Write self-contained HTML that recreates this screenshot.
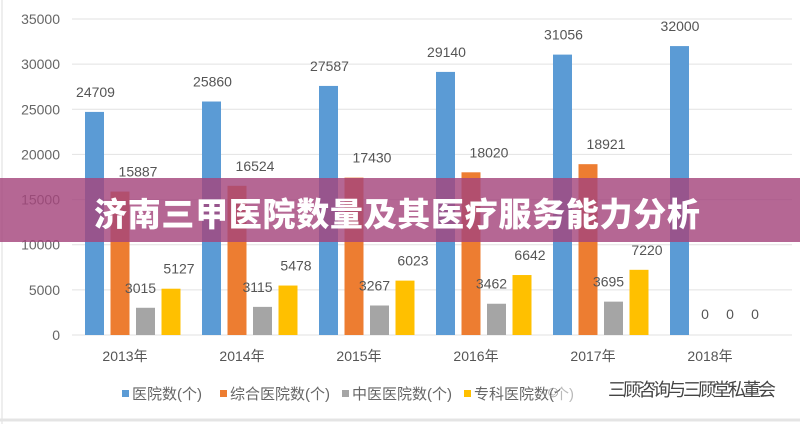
<!DOCTYPE html>
<html><head><meta charset="utf-8"><style>
html,body{margin:0;padding:0;background:#fff;}
#c{position:relative;width:800px;height:424px;overflow:hidden;font-family:"Liberation Sans","Noto Sans CJK SC",sans-serif;}
.banner{position:absolute;left:0;top:178px;width:800px;height:64px;background:rgba(165,70,125,0.82);}
.banner span{position:absolute;left:94px;top:10px;color:#fff;font-weight:900;font-size:33px;font-family:"Noto Sans CJK SC","WenQuanYi Zen Hei",sans-serif;letter-spacing:0.7px;}
</style></head><body><div id="c">
<svg id="s" width="800" height="424" xmlns="http://www.w3.org/2000/svg" font-family="Liberation Sans, Noto Sans CJK SC, sans-serif"></svg>
<div class="banner"><span>济南三甲医院数量及其医疗服务能力分析</span></div>
</div>
<script>
var s=document.getElementById('s'),h='';
h+='<rect x="0" y="0" width="800" height="424" fill="#fff"/><line x1="2" y1="0" x2="2" y2="424" stroke="#ddd"/><line x1="0" y1="420" x2="800" y2="420" stroke="#e4e4e4" stroke-width="3"/>';
function Y(v){return 335-v*316/35000;}
for(var i=0;i<=7;i++){var y=Y(i*5000);h+='<line x1="72" x2="792" y1="'+y+'" y2="'+y+'" stroke="#e2e2e2"/>';h+='<text x="60" y="'+(y+5)+'" text-anchor="end" font-size="14" fill="#666">'+(i*5000)+'</text>';}
var d=[[24709,15887,3015,5127],[25860,16524,3115,5478],[27587,17430,3267,6023],[29140,18020,3462,6642],[31056,18921,3695,7220],[32000,0,0,0]];
var col=['#5b9bd5','#ed7d31','#a5a5a5','#ffc000'];
var dx=[1,18,-5,8];
for(var g=0;g<6;g++){var x0=85+g*117;
for(var k=0;k<4;k++){var v=d[g][k],x=x0+k*25.5,y=Y(v);
if(v>0)h+='<rect x="'+x+'" y="'+y+'" width="19" height="'+(335-y)+'" fill="'+col[k]+'"/>';
var lx=x+9.5+dx[k],ly=y-15;if(g==5&&k>0){lx=x0+35+(k-1)*25;ly=319;}
if(g==5&&k==0){lx=x+10;}
h+='<text x="'+lx+'" y="'+ly+'" text-anchor="middle" font-size="14" fill="#555">'+v+'</text>';}
h+='<text x="'+(x0+40)+'" y="361" text-anchor="middle" font-size="14" fill="#555">'+(2013+g)+'年</text>';}
var lg=[['医院数(个)',122],['综合医院数(个)',220],['中医医院数(个)',342],['专科医院数(个)',464]];
for(var k=0;k<4;k++){h+='<rect x="'+lg[k][1]+'" y="390" width="7" height="7" fill="'+col[k]+'"/><text x="'+(lg[k][1]+10)+'" y="399" font-size="15" fill="#666">'+lg[k][0]+'</text>';}
h+='<rect x="560" y="378" width="225" height="24" fill="rgba(255,255,255,0.55)"/><text x="545" y="397" font-size="16" fill="#999">☺</text><text x="608" y="396" font-size="18" fill="#444" textLength="168">三顾咨询与三顾堂私董会</text>';
s.innerHTML=h;
</script></body></html>
